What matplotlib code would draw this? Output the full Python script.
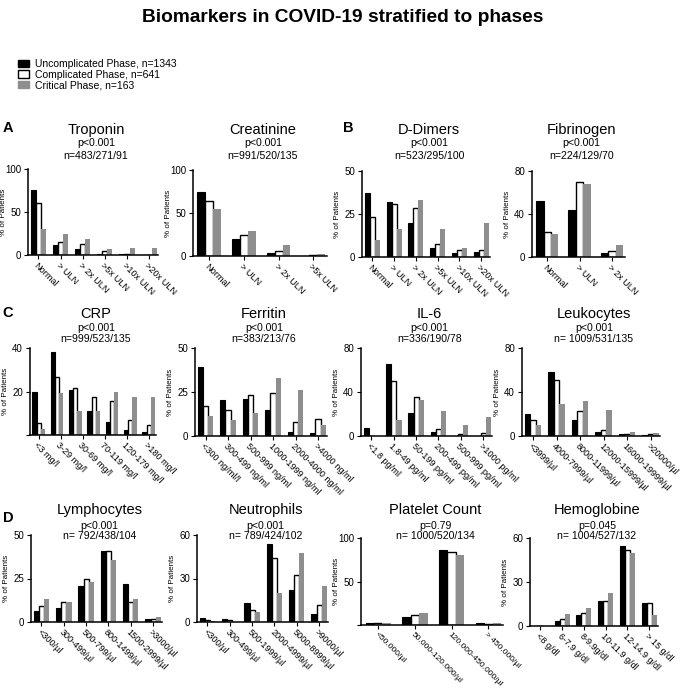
import matplotlib.pyplot as plt
import matplotlib.transforms as mtransforms
import numpy as np
from matplotlib.patches import Patch

plt.rcParams['font.family'] = ['Liberation Sans', 'DejaVu Sans']

W, H = 685, 688

# % of patients per phase: uncomplicated / complicated / critical
troponin_cats = ['Normal', '> ULN', '> 2x ULN', '>5x ULN', '>10x ULN', '>20x ULN']
troponin_unc = [76, 11.5, 7, 0.8, 1.2, 0]
troponin_comp = [61, 15.5, 12.5, 4.6, 1.5, 0.4]
troponin_crit = [30, 25, 18.5, 7, 8.5, 8.5]

creatinine_cats = ['Normal', '> ULN', '> 2x ULN', '>5x ULN']
creatinine_unc = [75, 20, 3, 0.4]
creatinine_comp = [64, 25, 6, 1.2]
creatinine_crit = [54.5, 28.5, 13, 2.3]

ddimer_cats = ['Normal', '> ULN', '> 2x ULN', '>5x ULN', '>10x ULN', '>20x ULN']
ddimer_unc = [37, 32, 20, 5.5, 2.5, 3]
ddimer_comp = [23.5, 31, 28.5, 7.5, 4, 4]
ddimer_crit = [10, 16, 33, 16, 5, 20]

fibrinogen_cats = ['Normal', '> ULN', '> 2x ULN']
fibrinogen_unc = [52, 44, 3.5]
fibrinogen_comp = [23.5, 70, 6]
fibrinogen_crit = [21.5, 67.5, 11.5]

crp_cats = ['<3 mg/l', '3-29 mg/l', '30-69 mg/l', '70-119 mg/l', '120-179 mg/l', '>180 mg/l']
crp_unc = [20, 38, 20.5, 11, 6, 2.3, 1.4]
crp_comp = [5.4, 26.6, 21.8, 17.5, 15.7, 6.9, 4.8]
crp_crit = [2.8, 19.2, 11, 11, 20, 17.7, 17.7]

ferritin_cats = ['<300 ng/ml/l', '300-499 ng/ml', '500-999 ng/ml', '1000-1999 ng/ml',
                 '2000-4000 ng/ml', '>4000 ng/ml']
ferritin_unc = [39, 20.5, 21, 14.5, 2, 1.5]
ferritin_comp = [17, 15, 23.5, 24.5, 8, 9.5]
ferritin_crit = [11.5, 9, 13, 33, 26, 6.5]

il6_cats = ['<1.8 pg/ml', '1.8-49 pg/ml', '50-199 pg/ml', '200-499 pg/ml', '500-999 pg/ml',
            '>1000 pg/ml']
il6_unc = [7, 65.7, 20.7, 4, 0, 0]
il6_comp = [0, 50, 35.6, 6.4, 1.8, 2.4]
il6_crit = [0, 14.6, 32.8, 22.8, 10, 17.3]

leuko_cats = ['<3999/µl', '4000-7999/µl', '8000-11999/µl', '12000-15999/µl',
              '16000-19999/µl', '>20000/µl']
leuko_unc = [19.6, 58, 14.5, 3.3, 1.5, 0.5]
leuko_comp = [15, 51, 22.6, 5.4, 2, 1.5]
leuko_crit = [9.7, 28.7, 31.7, 23.2, 3.6, 2.5]

lympho_cats = ['<300/µl', '300-499/µl', '500-799/µl', '800-1499/µl', '1500-2999/µl', '>3000/µl']
lympho_unc = [6.5, 8, 20.8, 40.8, 22, 1.5]
lympho_comp = [9, 11.5, 24.6, 41, 11.5, 2]
lympho_crit = [13.5, 11.5, 23, 35.6, 13.5, 3]

neutro_cats = ['<300/µl', '300-499/µl', '500-1999/µl', '2000-4999/µl', '5000-8999/µl', '>9000/µl']
neutro_unc = [2.8, 2.3, 13.4, 53.5, 22.4, 5.8]
neutro_comp = [1.6, 1.4, 8, 44.3, 32.3, 11.5]
neutro_crit = [0.9, 0, 7, 20.3, 47.3, 24.7]

platelet_cats = ['<50.000/µl', '50.000-120.000/µl', '120.000-450.000/µl', '> 450.000/µl']
platelet_unc = [2.3, 9.2, 85.8, 2]
platelet_comp = [2.7, 11, 83.8, 1.5]
platelet_crit = [2.3, 14.2, 80, 2]

hb_cats = ['<8 g/dl', '6-7.9 g/dl', '8-9.9g/dl', '10-11.9 g/dl', '12-14.9 g/dl', '> 15 g/dl']
hb_unc = [0.2, 3.4, 7.8, 17.2, 54.7, 16]
hb_comp = [0.3, 4.6, 9, 17.2, 51.5, 15.8]
hb_crit = [0.3, 8.5, 12, 22.2, 49.7, 7.8]

titles = ['Troponin', 'Creatinine', 'D-Dimers', 'Fibrinogen',
          'CRP', 'Ferritin', 'IL-6', 'Leukocytes',
          'Lymphocytes', 'Neutrophils', 'Platelet Count', 'Hemoglobine']
pvals = ['p<0.001'] * 10 + ['p=0.79', 'p=0.045']
ns = ['n=483/271/91', 'n=991/520/135', 'n=523/295/100', 'n=224/129/70',
      'n=999/523/135', 'n=383/213/76', 'n=336/190/78', 'n= 1009/531/135',
      'n= 792/438/104', 'n= 789/424/102', 'n= 1000/520/134', 'n= 1004/527/132']
ymaxes = [100, 100, 50, 80, 40, 50, 80, 80, 50, 60, 100, 60]
legend_labels = ['Uncomplicated Phase, n=1343', 'Complicated Phase, n=641', 'Critical Phase, n=163']

series = [
    (troponin_cats, troponin_unc, troponin_comp, troponin_crit),
    (creatinine_cats, creatinine_unc, creatinine_comp, creatinine_crit),
    (ddimer_cats, ddimer_unc, ddimer_comp, ddimer_crit),
    (fibrinogen_cats, fibrinogen_unc, fibrinogen_comp, fibrinogen_crit),
    (crp_cats, crp_unc, crp_comp, crp_crit),
    (ferritin_cats, ferritin_unc, ferritin_comp, ferritin_crit),
    (il6_cats, il6_unc, il6_comp, il6_crit),
    (leuko_cats, leuko_unc, leuko_comp, leuko_crit),
    (lympho_cats, lympho_unc, lympho_comp, lympho_crit),
    (neutro_cats, neutro_unc, neutro_comp, neutro_crit),
    (platelet_cats, platelet_unc, platelet_comp, platelet_crit),
    (hb_cats, hb_unc, hb_comp, hb_crit),
]

# axes boxes in pixels: left, right, top, bottom
boxes = [(28, 158, 169, 255), (193, 327, 170, 256), (362, 490, 171, 257), (532, 625, 171, 257),
         (30, 156, 348, 435), (195, 327, 348, 436), (361, 492, 348, 436), (522, 660, 348, 436),
         (31, 162, 535, 622), (197, 328, 535, 622), (361, 503, 538, 625), (530, 658, 538, 626)]
title_rows = [(130, 143, 156), (314, 328, 339), (510, 526, 536)]
hide_zero = {4, 10}
label_size = {10: 6.0}

GRAY = '#8e8e8e'


def draw_panel(fig, ax, cats, unc, comp, crit, ymax, hide0, width_px, lsize):
    x = np.arange(len(unc))
    w = 0.23
    ax.bar(x - w, unc, w, color='black', edgecolor='black', linewidth=0.8)
    ax.bar(x, comp, w, color='white', edgecolor='black', linewidth=1.0)
    ax.bar(x + w, crit, w, color=GRAY, linewidth=0)
    ax.set_xlim(-0.47, len(unc) - 0.6)
    ax.set_ylim(0, ymax)
    # ticks spread over the groups (CRP has one more group than labels)
    ax.set_xticks(np.linspace(0, len(unc) - 1, len(cats)))
    ax.set_xticklabels(cats, rotation=-45, ha='left', va='top',
                       rotation_mode='anchor', fontsize=lsize)
    shift = mtransforms.ScaledTranslation(5 / 100, 0, fig.dpi_scale_trans)
    for lab in ax.get_xticklabels():
        lab.set_transform(lab.get_transform() + shift)
    yt = [0, ymax / 2, ymax]
    ax.set_yticks(yt)
    ax.set_yticklabels(['' if (v == 0 and hide0) else f'{v:g}' for v in yt], fontsize=7)
    ax.set_ylabel('% of Patients', fontsize=5.8)
    ax.yaxis.set_label_coords(-21 / width_px, 0.5)
    for s in ['top', 'right']:
        ax.spines[s].set_visible(False)
    for s in ['left', 'bottom']:
        ax.spines[s].set_linewidth(1.1)
    ax.tick_params(axis='both', length=3, width=0.8, pad=2)
    ax.tick_params(axis='x', pad=1)


fig = plt.figure(figsize=(W / 100, H / 100), dpi=100)

fig.text(0.5, 1 - 18 / H, 'Biomarkers in COVID-19 stratified to phases',
         ha='center', va='center', fontsize=13.8, fontweight='bold')

for i, (data, box) in enumerate(zip(series, boxes)):
    l, r, t, b = box
    ax = fig.add_axes([l / W, 1 - b / H, (r - l) / W, (b - t) / H])
    draw_panel(fig, ax, *data, ymaxes[i], i in hide_zero, r - l, label_size.get(i, 6.6))
    cx = (l + r) / 2 / W + 3 / W
    ty, py, ny = title_rows[i // 4]
    fig.text(cx, 1 - ty / H, titles[i], ha='center', va='center', fontsize=10.5)
    fig.text(cx, 1 - py / H, pvals[i], ha='center', va='center', fontsize=7.6)
    fig.text(cx, 1 - ny / H, ns[i], ha='center', va='center', fontsize=7.6)

for letter, (px, py) in zip('ABCD', [(8, 128), (348, 128), (8, 313), (8, 518)]):
    fig.text(px / W, 1 - py / H, letter, ha='center', va='center',
             fontsize=10.5, fontweight='bold')

handles = [Patch(facecolor='black', edgecolor='black'),
           Patch(facecolor='white', edgecolor='black', linewidth=1.0),
           Patch(facecolor=GRAY, edgecolor=GRAY)]
fig.legend(handles, legend_labels, loc='upper left', bbox_to_anchor=(18 / W, 1 - 59 / H),
           frameon=False, fontsize=7.5, handlelength=1.1, handleheight=0.7,
           handletextpad=0.5, labelspacing=0.05, borderpad=0, borderaxespad=0)

fig.savefig('out.png', dpi=100)
